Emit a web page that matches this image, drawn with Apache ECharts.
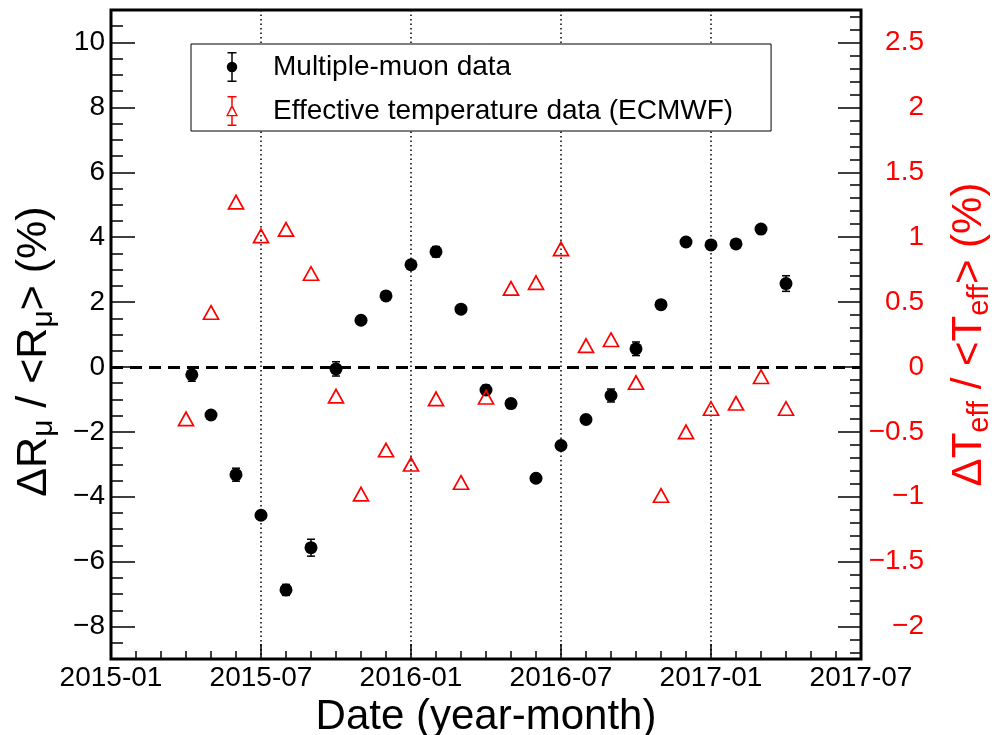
<!DOCTYPE html>
<html>
<head>
<meta charset="utf-8">
<script src="https://cdn.jsdelivr.net/npm/echarts@6/dist/echarts.min.js"></script>
<style>html,body{margin:0;padding:0;background:#fff;}#c{width:994px;height:735px;}</style>
</head>
<body>
<div id="c"></div>
<script>
// ---- data ----
const muonDates = ['2015-04-08','2015-05-01','2015-06-01','2015-07-01','2015-08-01','2015-09-01','2015-10-01','2015-11-01','2015-12-01',
  '2016-01-01','2016-02-01','2016-03-01','2016-04-01','2016-05-01','2016-06-01','2016-07-01','2016-08-01','2016-09-01','2016-10-01',
  '2016-11-01','2016-12-01','2017-01-01','2017-02-01','2017-03-01','2017-04-01'];
const muonValues = [-0.24,-1.48,-3.32,-4.57,-6.87,-5.57,-0.06,1.44,2.19,3.15,3.55,1.78,-0.71,-1.13,-3.43,-2.42,-1.62,-0.88,0.56,1.92,3.85,3.76,3.79,4.25,2.57];
const muonErrors = [0.2,0.1,0.2,0.12,0.17,0.26,0.22,0.1,0.1,0.12,0.16,0.1,0.15,0.1,0.1,0.1,0.1,0.2,0.21,0.1,0.1,0.1,0.1,0.12,0.24];

const tempDates = ['2015-04-01','2015-05-01','2015-06-01','2015-07-01','2015-08-01','2015-09-01','2015-10-01','2015-11-01','2015-12-01',
  '2016-01-01','2016-02-01','2016-03-01','2016-04-01','2016-05-01','2016-06-01','2016-07-01','2016-08-01','2016-09-01','2016-10-01',
  '2016-11-01','2016-12-01','2017-01-01','2017-02-01','2017-03-01','2017-04-01'];
const tempValues = [-0.40,0.42,1.27,1.01,1.06,0.72,-0.225,-0.98,-0.64,-0.75,-0.246,-0.89,-0.233,0.605,0.65,0.91,0.164,0.21,-0.12,-0.99,-0.50,-0.32,-0.28,-0.075,-0.32];

const xTickLabels = ['2015-01','2015-07','2016-01','2016-07','2017-01','2017-07'];
const leftTickValues = [-8,-6,-4,-2,0,2,4,6,8,10];
const rightTickValues = [-2,-1.5,-1,-0.5,0,0.5,1,1.5,2,2.5];

// ---- helpers ----
function monthIndex(s){
  const p = s.split('-').map(Number);
  return (p[0]-2015)*12 + (p[1]-1) + (p[2]-1)/30;
}
function minus(v){ return String(v).replace('-', '\u2212'); }
function range(a,b,step){ const r=[]; for(let v=a; v<=b+1e-9; v+=step) r.push(Math.round(v*1000)/1000); return r; }

const FONT = '"Liberation Sans", Arial, Helvetica, sans-serif';
const muonPts = muonDates.map((d,i)=>[monthIndex(d), muonValues[i]]);
const muonErr = muonDates.map((d,i)=>[monthIndex(d), muonValues[i]-muonErrors[i], muonValues[i]+muonErrors[i]]);
const tempPts = tempDates.map((d,i)=>[monthIndex(d), tempValues[i]]);

const iconMuon = 'path://M4,0H16V2H4Z M4,38H16V40H4Z M9,0H11V40H9Z M3,20A7,7 0 1,1 17,20A7,7 0 1,1 3,20Z';
const iconTemp = 'path://M4,0H16V2H4Z M4,38H16V40H4Z M9,0H11V12H9Z M9,27H11V40H9Z M10,11L18,27L2,27Z M10,15.5L4.8,25.4L15.2,25.4Z';

const LEFT_MIN=-9, LEFT_MAX=11, RIGHT_MIN=-2.25, RIGHT_MAX=2.75;

const chart = echarts.init(document.getElementById('c'), null, {renderer:'canvas'});
chart.setOption({
  animation:false,
  backgroundColor:'#fff',
  textStyle:{fontFamily:FONT},
  grid:{left:111, right:133, top:10, bottom:76, outerBoundsMode:'none', containLabel:false,
    show:true, borderColor:'#000', borderWidth:3, backgroundColor:'transparent'},
  legend:{
    orient:'vertical', left:191, top:44,
    padding:[8,38,5,35],
    backgroundColor:'#fff', borderColor:'#000', borderWidth:1,
    itemWidth:12, itemHeight:30, itemGap:14,
    textStyle:{fontFamily:FONT, fontSize:28, color:'#000', padding:[0,0,0,30], lineHeight:30},
    data:[
      {name:'Multiple-muon data', icon:iconMuon, itemStyle:{color:'#000', borderWidth:0}},
      {name:'Effective temperature data (ECMWF)', icon:iconTemp, itemStyle:{color:'#ff0000', borderWidth:0}}
    ]
  },
  xAxis:[{
    type:'value', min:0, max:30, interval:6,
    name:'Date (year-month)', nameLocation:'middle', nameGap:35,
    nameTextStyle:{fontFamily:FONT, fontSize:42, color:'#000'},
    axisLine:{show:false, onZero:false},
    axisTick:{show:true, inside:true, length:15, lineStyle:{color:'#000', width:1.5}},
    minorTick:{show:true, splitNumber:6, length:8, lineStyle:{color:'#000', width:1.5}},
    axisLabel:{fontFamily:FONT, fontSize:28, color:'#000', margin:5, showMinLabel:true, showMaxLabel:true,
      formatter:function(v){ return xTickLabels[Math.round(v/6)]; }},
    splitLine:{show:true, lineStyle:{color:'#000', width:1.5, type:[1.5,3]}}
  }],
  yAxis:[{
    type:'value', min:LEFT_MIN, max:LEFT_MAX, position:'left',
    name:'{a|\u0394R}{s|\u03bc}{a| / <R}{s|\u03bc}{a|> (%)}',
    nameLocation:'middle', nameGap:52, nameRotate:90,
    nameTextStyle:{color:'#000', padding:[0,34,0,0], rich:{
      a:{fontFamily:FONT, fontSize:43, color:'#000'},
      s:{fontFamily:FONT, fontSize:30, color:'#000', padding:[20,0,0,0]}
    }},
    axisLine:{show:false, onZero:false},
    axisTick:{show:true, inside:true, length:24, customValues:leftTickValues, lineStyle:{color:'#000', width:1.5}},
    axisLabel:{fontFamily:FONT, fontSize:28, color:'#000', margin:6, customValues:leftTickValues, formatter:minus},
    splitLine:{show:false}
  },{
    type:'value', min:RIGHT_MIN, max:RIGHT_MAX, position:'right',
    name:'{a|\u0394T}{s|eff}{a| / <T}{s|eff}{a|> (%)}',
    nameLocation:'middle', nameGap:84, nameRotate:90,
    nameTextStyle:{color:'#ff0000', rich:{
      a:{fontFamily:FONT, fontSize:42, color:'#ff0000'},
      s:{fontFamily:FONT, fontSize:29, color:'#ff0000', padding:[20,0,0,0]}
    }},
    axisLine:{show:false, onZero:false},
    axisTick:{show:true, inside:true, length:23, customValues:rightTickValues, lineStyle:{color:'#000', width:1.5}},
    axisLabel:{fontFamily:FONT, fontSize:28, color:'#ff0000', margin:63, align:'right', customValues:rightTickValues, formatter:minus},
    splitLine:{show:false}
  },{
    type:'value', min:LEFT_MIN, max:LEFT_MAX, position:'left',
    axisLine:{show:false, onZero:false},
    axisTick:{show:true, inside:true, length:12, customValues:range(LEFT_MIN, LEFT_MAX, 0.5), lineStyle:{color:'#000', width:1.5}},
    axisLabel:{show:false}, splitLine:{show:false}
  },{
    type:'value', min:RIGHT_MIN, max:RIGHT_MAX, position:'right',
    axisLine:{show:false, onZero:false},
    axisTick:{show:true, inside:true, length:11, customValues:range(-2.2, 2.7, 0.1), lineStyle:{color:'#000', width:1.5}},
    axisLabel:{show:false}, splitLine:{show:false}
  }],
  series:[{
    type:'custom', name:'muonErr', yAxisIndex:0, z:2, silent:true,
    data:muonErr,
    renderItem:function(params, api){
      const x = api.value(0);
      const lo = api.coord([x, api.value(1)]);
      const hi = api.coord([x, api.value(2)]);
      const cw = 4;
      const st = {stroke:'#000', lineWidth:1.5};
      return {type:'group', children:[
        {type:'line', shape:{x1:lo[0], y1:lo[1], x2:hi[0], y2:hi[1]}, style:st},
        {type:'line', shape:{x1:lo[0]-cw, y1:lo[1], x2:lo[0]+cw, y2:lo[1]}, style:st},
        {type:'line', shape:{x1:hi[0]-cw, y1:hi[1], x2:hi[0]+cw, y2:hi[1]}, style:st}
      ]};
    }
  },{
    type:'scatter', name:'Multiple-muon data', yAxisIndex:0, z:3,
    data:muonPts, symbol:'circle', symbolSize:13,
    itemStyle:{color:'#000', opacity:1},
    markLine:{silent:true, symbol:['none','none'], label:{show:false},
      lineStyle:{color:'#000', width:3, type:[12,7]},
      data:[{yAxis:0}]}
  },{
    type:'scatter', name:'Effective temperature data (ECMWF)', yAxisIndex:1, z:4,
    data:tempPts, symbol:'triangle', symbolSize:[15,13.5],
    itemStyle:{color:'rgba(0,0,0,0)', borderColor:'#ff0000', borderWidth:1.7, opacity:1}
  }]
});
</script>
</body>
</html>
